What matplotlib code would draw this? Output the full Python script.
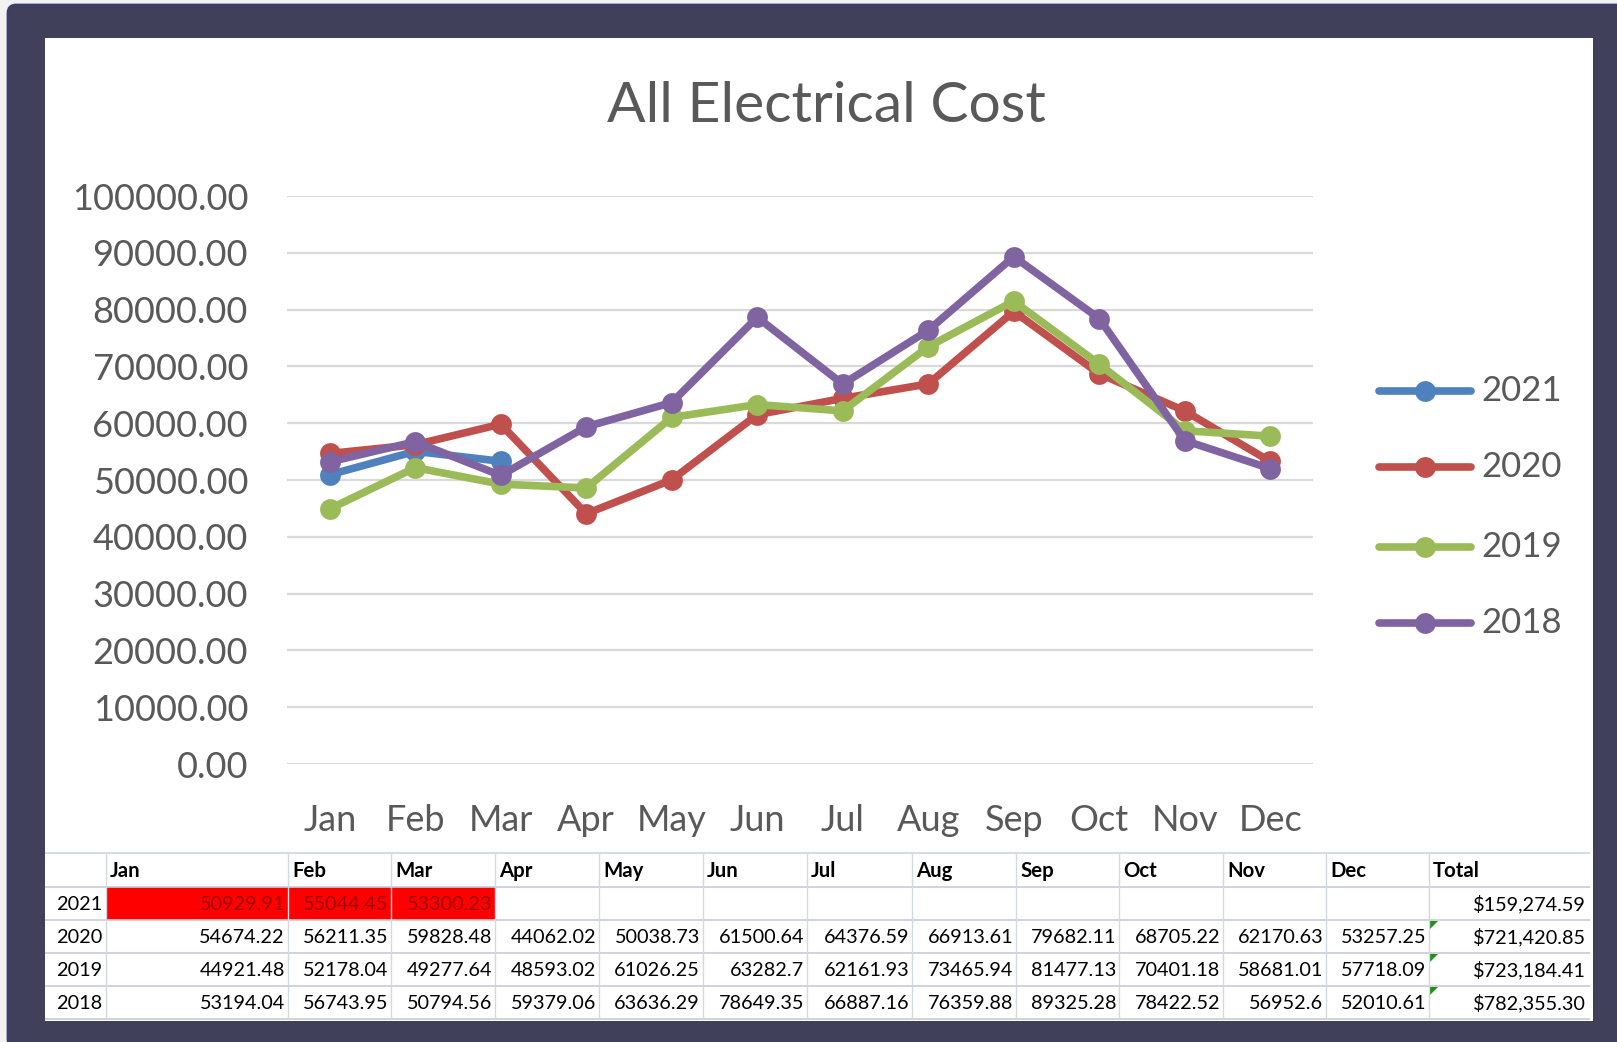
import numpy as np
import matplotlib
matplotlib.use("Agg")
import matplotlib.pyplot as plt
from matplotlib.patches import Rectangle, FancyBboxPatch, Polygon

months = ["Jan", "Feb", "Mar", "Apr", "May", "Jun",
          "Jul", "Aug", "Sep", "Oct", "Nov", "Dec"]
years = ["2021", "2020", "2019", "2018"]

cost_2021 = [50929.91, 55044.45, 53300.23]
cost_2020 = [54674.22, 56211.35, 59828.48, 44062.02, 50038.73, 61500.64,
             64376.59, 66913.61, 79682.11, 68705.22, 62170.63, 53257.25]
cost_2019 = [44921.48, 52178.04, 49277.64, 48593.02, 61026.25, 63282.7,
             62161.93, 73465.94, 81477.13, 70401.18, 58681.01, 57718.09]
cost_2018 = [53194.04, 56743.95, 50794.56, 59379.06, 63636.29, 78649.35,
             66887.16, 76359.88, 89325.28, 78422.52, 56952.6, 52010.61]

series = [cost_2021, cost_2020, cost_2019, cost_2018]
colors = ["#4f81bd", "#c0504d", "#9bbb59", "#8064a2"]
y_ticks = np.arange(0, 100001, 10000)

W, H = 1617, 1042
FONT = "Lato"
TXT = "#595959"

plt.rcParams['font.family'] = [FONT, 'DejaVu Sans']

fig = plt.figure(figsize=(W / 100, H / 100), dpi=100, facecolor="#f2f2f2")

# === background frame, white panel and table (pixel coords) ===
bg = fig.add_axes([0, 0, 1, 1], zorder=0)
bg.set_xlim(0, W)
bg.set_ylim(H, 0)
bg.axis("off")
bg.add_patch(FancyBboxPatch((8, 5), W, H, boxstyle="round,pad=0,rounding_size=8",
                            facecolor="#40405a", edgecolor="#3b3e6c", lw=2))
bg.add_patch(Rectangle((45, 38), 1593 - 45, 1021 - 38, facecolor="white", edgecolor="none"))

col_edges = [45, 106, 288, 391, 495, 599, 703, 807, 912, 1016, 1119, 1223, 1326, 1429, 1590]
row_edges = [853, 887, 920, 953, 986, 1019]
grid_col = "#d4d8e0"

# 2021 red cells
bg.add_patch(Rectangle((col_edges[1], row_edges[1]), col_edges[1 + len(cost_2021)] - col_edges[1],
                       row_edges[2] - row_edges[1], facecolor="#ff0000", edgecolor="none"))

for y in row_edges:
    bg.plot([45, 1590], [y, y], color="#c8ccd6" if y != row_edges[0] else "#c9d6e8",
            lw=1.2, solid_capstyle="butt")
for x in col_edges[1:-1]:
    bg.plot([x, x], [row_edges[0], row_edges[-1]], color=grid_col, lw=1.0)

tfs = 14.3
# header
for j, m in enumerate(months + ["Total"]):
    bg.text(col_edges[j + 1] + 4, (row_edges[0] + row_edges[1]) / 2 + 1, m,
            ha="left", va="center", fontsize=tfs + 0.4, fontweight="bold", color="black")


def fmt(v):
    return f"{v:.2f}".rstrip("0").rstrip(".")


for i, (yr, vals) in enumerate(zip(years, series)):
    yc = (row_edges[i + 1] + row_edges[i + 2]) / 2 + 1
    bg.text(col_edges[1] - 4, yc, yr, ha="right", va="center", fontsize=tfs, color="black")
    for j, v in enumerate(vals):
        bg.text(col_edges[j + 2] - 3, yc, fmt(v), ha="right", va="center", fontsize=tfs,
                color="#a00000" if yr == "2021" else "black")
    bg.text(col_edges[-1] - 4, yc, f"${sum(vals):,.2f}", ha="right", va="center",
            fontsize=tfs, color="black")
    if len(vals) == 12:
        x0, y0 = col_edges[-2] + 1, row_edges[i + 1] + 1
        bg.add_patch(Polygon([(x0, y0), (x0 + 8, y0), (x0, y0 + 8)], closed=True,
                             facecolor="#1e8f1e", edgecolor="none"))

# === chart ===
ax_l, ax_r = 287 / W, 1313 / W
ax_b, ax_t = 1 - 764 / H, 1 - 196 / H
ax = fig.add_axes([ax_l, ax_b, ax_r - ax_l, ax_t - ax_b], zorder=1)
ax.patch.set_alpha(0)

x = np.arange(len(months))
for vals, c in zip(series, colors):
    ax.plot(x[:len(vals)], vals, color=c, lw=5.5, marker="o", markersize=15,
            markeredgewidth=0, solid_capstyle="round", clip_on=False)

ax.set_xlim(-0.5, 11.5)
ax.set_ylim(0, 100000)
ax.set_yticks(y_ticks)
ax.set_yticklabels([f"{v:.2f}" for v in y_ticks])
ax.set_xticks(x)
ax.set_xticklabels(months)
ax.grid(axis="y", color="#d9d9d9", lw=1.6)
ax.set_axisbelow(True)
for s in ax.spines.values():
    s.set_visible(False)
ax.tick_params(axis="both", length=0, labelsize=26, labelcolor=TXT)
ax.tick_params(axis="y", pad=28)
ax.tick_params(axis="x", pad=29)

fig.text(826 / W, 1 - 107 / H, "All Electrical Cost", ha="center", va="center",
         fontsize=41, color=TXT)

# legend
leg_y = [391, 467, 547, 623]
for yr, c, ly in zip(years, colors, leg_y):
    bg.plot([1379, 1471], [ly, ly], color=c, lw=5.5, solid_capstyle="round")
    bg.plot([1425], [ly], marker="o", color=c, markersize=15, markeredgewidth=0)
    bg.text(1481, ly, yr, ha="left", va="center", fontsize=25, color=TXT)

fig.savefig("out.png", dpi=100, facecolor=fig.get_facecolor())
